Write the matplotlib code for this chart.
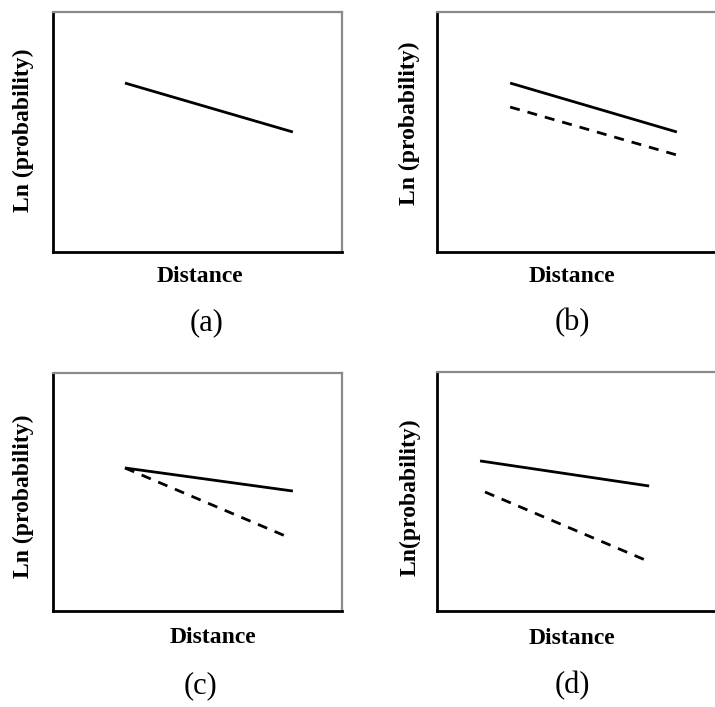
import matplotlib.pyplot as plt

plt.rcParams['font.family'] = ['Liberation Serif', 'DejaVu Serif']

# Line end points (axes span 0..10 on both axes)
panel_names = ['(a)', '(b)', '(c)', '(d)']
ylabels = ['Ln (probability)', 'Ln (probability)', 'Ln (probability)', 'Ln(probability)']

solid_x = [[2.49, 8.30], [2.53, 8.30], [2.49, 8.30], [1.49, 7.34]]
solid_y = [[7.04, 5.00], [7.04, 5.00], [6.01, 5.04], [6.28, 5.23]]

dashed_x = [None, [2.53, 8.30], [2.49, 8.20], [1.66, 7.37]]
dashed_y = [None, [6.04, 4.04], [6.01, 3.07], [4.98, 2.05]]

W, H = 715, 707
fig = plt.figure(figsize=(W / 100, H / 100), dpi=100)

# axes boxes in pixels: left, bottom, width, height
boxes = [(53, 252, 289, 240), (437, 252, 289, 240),
         (53, 611, 289, 238), (437, 611, 289, 239)]
# label positions in axes fractions
ylab_pos = [(-0.104, 0.508), (-0.097, 0.537), (-0.104, 0.483), (-0.093, 0.477)]
xlab_pos = [(0.509, -0.104), (0.467, -0.104), (0.554, -0.113), (0.467, -0.113)]
name_pos = [(0.533, -0.296), (0.467, -0.296), (0.509, -0.315), (0.467, -0.310)]

for i in range(4):
    l, b, w, h = boxes[i]
    ax = fig.add_axes([l / W, 1 - b / H, w / W, h / H])
    ax.set_xlim(0, 10)
    ax.set_ylim(0, 10)
    ax.set_xticks([])
    ax.set_yticks([])
    for s in ['left', 'bottom']:
        ax.spines[s].set_color('black')
        ax.spines[s].set_linewidth(2)
    for s in ['top', 'right']:
        ax.spines[s].set_color('#8a8a8a')
        ax.spines[s].set_linewidth(1.6)

    ax.plot(solid_x[i], solid_y[i], color='black', lw=2, solid_capstyle='butt')
    if dashed_x[i] is not None:
        ax.plot(dashed_x[i], dashed_y[i], color='black', lw=2,
                dashes=(3.6, 2.9), dash_capstyle='butt')

    ax.set_xlabel('Distance', fontsize=17, fontweight='bold')
    ax.xaxis.set_label_coords(*xlab_pos[i])
    ax.xaxis.label.set_va('center')
    ax.set_ylabel(ylabels[i], fontsize=17, fontweight='bold')
    ax.yaxis.set_label_coords(*ylab_pos[i])
    ax.yaxis.label.set_va('center')

    ax.text(name_pos[i][0], name_pos[i][1], panel_names[i], transform=ax.transAxes,
            ha='center', va='center', fontsize=22)

plt.savefig('out.png', dpi=100)
